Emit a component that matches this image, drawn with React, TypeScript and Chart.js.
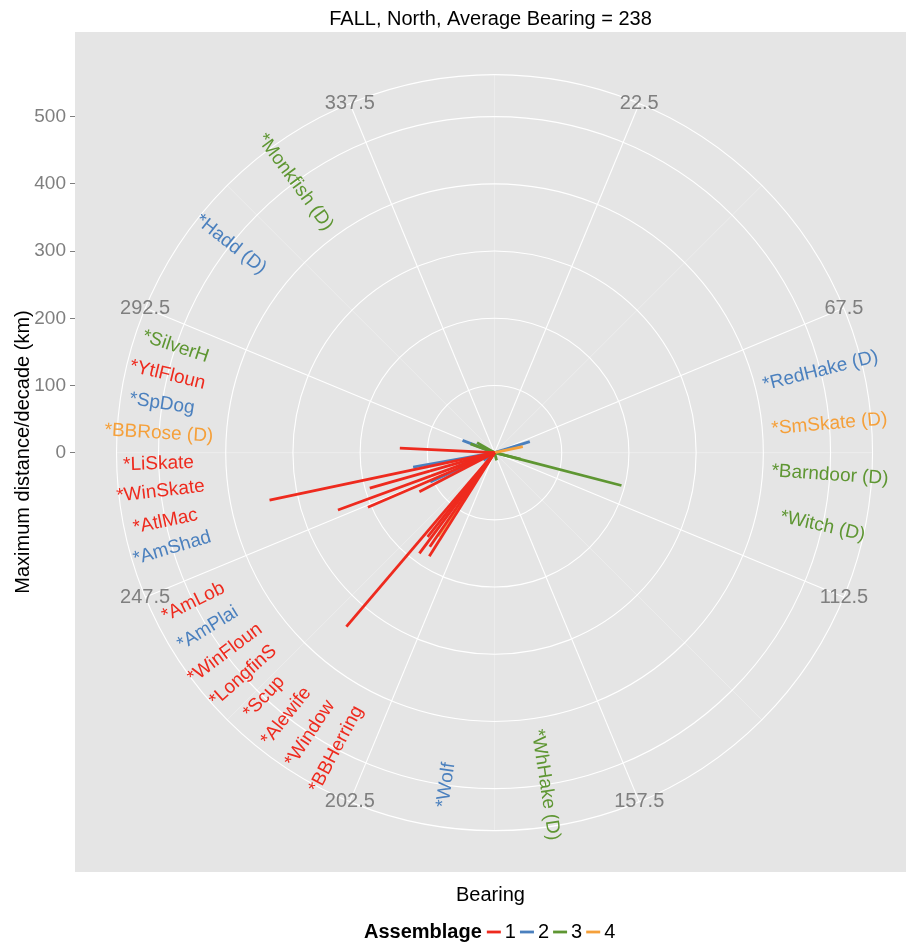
import React, { useEffect, useRef } from 'react';
import { Chart, registerables } from 'chart.js';

Chart.register(...registerables);

// ---------------- data ----------------
const PLOT_TITLE = 'FALL, North, Average Bearing = 238';
const Y_TITLE = 'Maximum distance/decade (km)';
const X_TITLE = 'Bearing';
const LEGEND_TITLE = 'Assemblage';
const assemblages = ['1', '2', '3', '4'];
const assemblageColors = ['#EE2A1E', '#4B80BE', '#5E9632', '#F5A03A'];

const speciesNames = [
  '*Monkfish (D)', '*Hadd (D)', '*SilverH', '*YtlFloun', '*SpDog', '*BBRose (D)',
  '*LiSkate', '*WinSkate', '*AtlMac', '*AmShad', '*AmLob', '*AmPlai',
  '*WinFloun', '*LongfinS', '*Scup', '*Alewife', '*Window', '*BBHerring',
  '*Wolf', '*WhHake (D)', '*RedHake (D)', '*SmSkate (D)', '*Barndoor (D)', '*Witch (D)',
];
const speciesAssemblage = [
  3, 2, 3, 1, 2, 4,
  1, 1, 1, 2, 1, 2,
  1, 1, 1, 1, 1, 1,
  2, 3, 2, 4, 3, 3,
];
// bearing (deg) and maximum distance/decade (km) of each species' shift
const shiftBearing = [
  300, 250, 290, 272.7, 291, 214,
  258.1, 254.1, 249.9, 259.9, 246.7, 245.5,
  242.5, 220.4, 216.7, 212.2, 214.5, 218.5,
  235, 165, 72.6, 78, 104, 104.5,
];
const shiftDistance = [
  30, 60, 38, 141, 51, 150,
  342, 193, 248, 123, 205, 105,
  126, 340, 187, 182, 170, 160,
  20, 12, 55, 43, 40, 195,
];
// bearing at which each species name is written (on the 500 km ring)
const labelBearing = [
  323.6, 308.3, 288.4, 283.4, 278.4, 273.3,
  268.1, 263.4, 258.2, 253.5, 243.6, 238.5,
  233.3, 228.4, 223.3, 218.3, 213.3, 208.1,
  188.3, 171.3, 75.9, 85.1, 93.8, 102.6,
];
const LABEL_RING = 500;

const radialBreaks = [0, 100, 200, 300, 400, 500];
const thetaBreaks = [22.5, 67.5, 112.5, 157.5, 202.5, 247.5, 292.5, 337.5];
const thetaMinorBreaks = [0, 45, 90, 135, 180, 225, 270, 315];
const R_TOP = 500; // radius mapped to 0.4 of the panel
const OUTER_RING = (R_TOP * 0.45) / 0.4;

const FONT = '"Liberation Sans", Arial, Helvetica, sans-serif';
const rad = (d: number) => (d * Math.PI) / 180;

function upright(b: number) {
  const bb = ((b % 360) + 360) % 360;
  return bb > 0 && bb <= 180 ? bb - 90 : bb - 270;
}

const polarGrid = {
  id: 'polarGrid',
  beforeDraw(chart: any) {
    const { ctx, width, height } = chart;
    ctx.save();
    ctx.fillStyle = '#FFFFFF';
    ctx.fillRect(0, 0, width, height);
    ctx.restore();
  },
  beforeDatasetsDraw(chart: any) {
    const { ctx, chartArea: ca, scales } = chart;
    const xs = scales.x, ys = scales.y;
    const px = (b: number, r: number) => xs.getPixelForValue(r * Math.sin(rad(b)));
    const py = (b: number, r: number) => ys.getPixelForValue(r * Math.cos(rad(b)));
    const cx = xs.getPixelForValue(0), cy = ys.getPixelForValue(0);
    const k = Math.abs(ys.getPixelForValue(100) - cy) / 100;
    ctx.save();
    ctx.fillStyle = '#E5E5E5';
    ctx.fillRect(ca.left, ca.top, ca.right - ca.left, ca.bottom - ca.top);
    // minor theta spokes
    ctx.strokeStyle = '#F2F2F2';
    ctx.lineWidth = 0.6;
    thetaMinorBreaks.forEach((b) => {
      ctx.beginPath();
      ctx.moveTo(cx, cy);
      ctx.lineTo(px(b, OUTER_RING), py(b, OUTER_RING));
      ctx.stroke();
    });
    // major theta spokes
    ctx.strokeStyle = '#FFFFFF';
    ctx.lineWidth = 1.1;
    thetaBreaks.forEach((b) => {
      ctx.beginPath();
      ctx.moveTo(cx, cy);
      ctx.lineTo(px(b, OUTER_RING), py(b, OUTER_RING));
      ctx.stroke();
    });
    // radial circles
    [...radialBreaks.filter((r) => r > 0), OUTER_RING].forEach((r) => {
      ctx.beginPath();
      ctx.arc(cx, cy, r * k, 0, Math.PI * 2);
      ctx.stroke();
    });
    ctx.restore();
  },
  afterDatasetsDraw(chart: any) {
    const { ctx, scales } = chart;
    const xs = scales.x, ys = scales.y;
    const px = (b: number, r: number) => xs.getPixelForValue(r * Math.sin(rad(b)));
    const py = (b: number, r: number) => ys.getPixelForValue(r * Math.cos(rad(b)));
    ctx.save();
    ctx.textAlign = 'center';
    ctx.textBaseline = 'middle';
    // species labels
    ctx.font = `19px ${FONT}`;
    speciesNames.forEach((name, i) => {
      const b = labelBearing[i];
      ctx.save();
      ctx.translate(px(b, LABEL_RING), py(b, LABEL_RING));
      ctx.rotate(rad(upright(b)));
      ctx.fillStyle = assemblageColors[speciesAssemblage[i] - 1];
      ctx.fillText(name, 0, 0);
      ctx.restore();
    });
    // theta axis labels
    ctx.font = `20px ${FONT}`;
    ctx.fillStyle = '#7F7F7F';
    thetaBreaks.forEach((b) => {
      ctx.fillText(String(b), px(b, OUTER_RING), py(b, OUTER_RING));
    });
    ctx.restore();
  },
  afterDraw(chart: any) {
    const { ctx } = chart;
    ctx.save();
    ctx.textBaseline = 'middle';
    ctx.textAlign = 'left';
    const yMid = 932;
    let xPos = 364;
    ctx.font = `bold 20px ${FONT}`;
    ctx.fillStyle = '#000000';
    ctx.fillText(LEGEND_TITLE, xPos, yMid);
    xPos += ctx.measureText(LEGEND_TITLE).width + 5;
    ctx.font = `20px ${FONT}`;
    assemblages.forEach((a, i) => {
      ctx.strokeStyle = assemblageColors[i];
      ctx.lineWidth = 2.8;
      ctx.beginPath();
      ctx.moveTo(xPos, yMid);
      ctx.lineTo(xPos + 14, yMid);
      ctx.stroke();
      xPos += 18;
      ctx.fillStyle = '#000000';
      ctx.fillText(a, xPos, yMid);
      xPos += ctx.measureText(a).width + 4;
    });
    ctx.restore();
  },
};

export default function App() {
  const canvasRef = useRef<HTMLCanvasElement | null>(null);

  useEffect(() => {
    if (!canvasRef.current) return;
    const datasets = speciesNames.map((name, i) => {
      const b = rad(shiftBearing[i]);
      const r = shiftDistance[i];
      const g = speciesAssemblage[i];
      return {
        label: name,
        data: [
          { x: 0, y: 0 },
          { x: r * Math.sin(b), y: r * Math.cos(b) },
        ],
        showLine: true,
        borderColor: assemblageColors[g - 1],
        backgroundColor: assemblageColors[g - 1],
        borderWidth: 2.8,
        pointRadius: 0,
        borderCapStyle: 'butt' as const,
        order: g === 1 ? 0 : g === 2 ? 3 : g === 3 ? 2 : 1,
      };
    });

    const chart = new Chart(canvasRef.current, {
      type: 'scatter',
      data: { datasets },
      options: {
        animation: false,
        responsive: false,
        devicePixelRatio: 1,
        layout: { padding: 0 },
        plugins: {
          legend: { display: false },
          tooltip: { enabled: false },
          title: {
            display: true,
            fullSize: false,
            text: PLOT_TITLE,
            color: '#000000',
            font: { family: FONT, size: 20, weight: 'normal', lineHeight: 1.2 },
            padding: { top: 7, bottom: 1 },
          },
        },
        scales: {
          x: {
            type: 'linear',
            min: -624,
            max: 612,
            grid: { display: false },
            border: { display: false },
            ticks: { display: false },
            title: {
              display: true,
              text: X_TITLE,
              color: '#000000',
              font: { family: FONT, size: 20, lineHeight: 1.2 },
              padding: { top: 0, bottom: 36 },
            },
            afterFit: (s: any) => {
              s.height = 71;
            },
          },
          y: {
            type: 'linear',
            min: -624,
            max: 626,
            afterBuildTicks: (s: any) => {
              s.ticks = radialBreaks.map((v) => ({ value: v }));
            },
            ticks: {
              color: '#7F7F7F',
              font: { family: FONT, size: 19 },
              padding: 4,
              callback: (v: any) => String(v),
            },
            grid: {
              drawOnChartArea: false,
              drawTicks: true,
              tickLength: 5,
              tickColor: '#7F7F7F',
              lineWidth: 1,
            },
            border: { display: false },
            title: {
              display: true,
              text: Y_TITLE,
              color: '#000000',
              font: { family: FONT, size: 20, lineHeight: 1.2 },
              padding: { top: 11, bottom: 0 },
            },
            afterFit: (s: any) => {
              s.width = 75;
            },
          },
        },
      },
      plugins: [polarGrid],
    });
    return () => chart.destroy();
  }, []);

  return (
    <div style={{ position: 'fixed', left: 0, top: 0, width: 906, height: 943, background: '#fff' }}>
      <canvas ref={canvasRef} width={906} height={943} />
    </div>
  );
}
